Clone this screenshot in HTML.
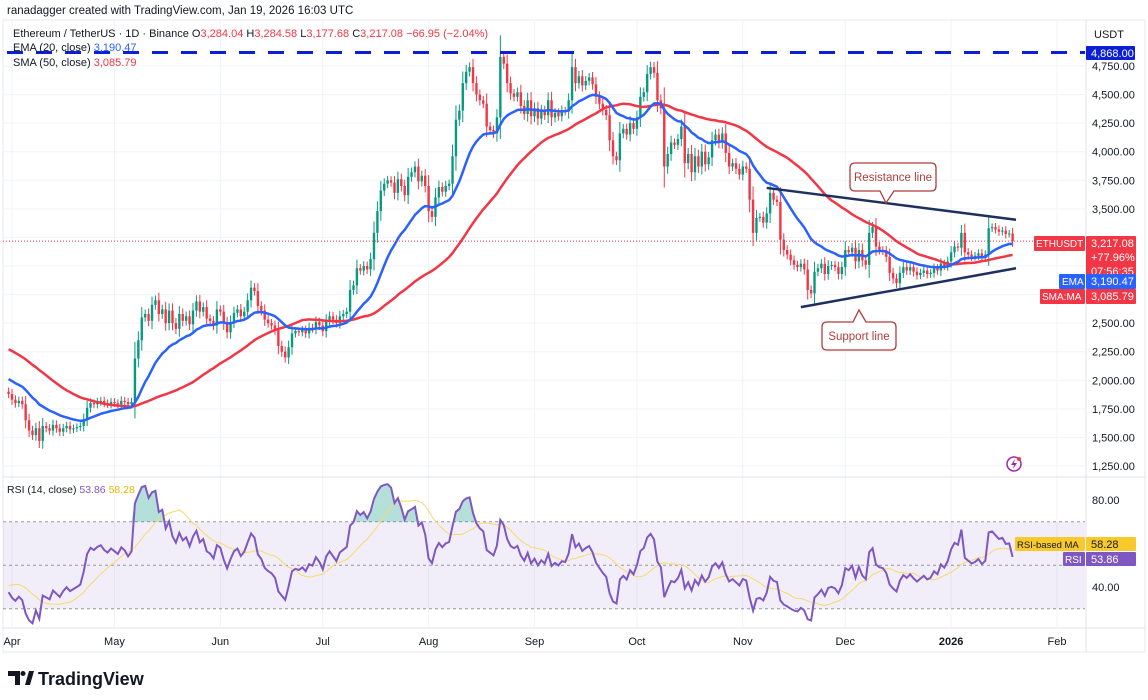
<!DOCTYPE html>
<html><head><meta charset="utf-8"><style>
html,body{margin:0;padding:0;background:#fff;width:1148px;height:700px;overflow:hidden;font-family:"Liberation Sans",sans-serif}
svg text{font-family:"Liberation Sans",sans-serif}
</style></head><body>
<svg id="c" width="1148" height="700" viewBox="0 0 1148 700" xmlns="http://www.w3.org/2000/svg">
<rect x="0" y="0" width="1148" height="700" fill="#fff"/>
<rect x="3" y="20" width="1142" height="632" fill="none" stroke="#e6e8ee" stroke-width="1"/>
<g id="grid"></g>
<g id="rsiBand"></g>
<g id="candles"></g>
<g id="lines"></g>
<g id="rsi"></g>
<g id="ann"></g>
<g id="axes"></g>
<g id="hdr"></g>
</svg>
<script>
const priorCloses=[2650,2620,2700,2680,2740,2720,2690,2660,2720,2680,2740,2800,2760,2700,2680,2640,2500,2420,2380,2330,2250,2200,2130,2220,2240,2180,2150,2170,2080,2030,1920,1960,1880,2010,1900,1920,1880,1860,1930,2020,1980,2050,1980,2010,2060,2080,2000,1930,1900];
const closes=[1880,1830,1800,1820,1790,1650,1560,1520,1580,1470,
1600,1580,1560,1610,1580,1550,1580,1600,1570,1580,
1590,1600,1660,1760,1800,1790,1810,1820,1800,1790,
1810,1800,1790,1820,1810,1790,1810,2190,2350,2550,
2580,2520,2660,2700,2580,2620,2500,2610,2500,2450,
2580,2520,2560,2490,2610,2690,2600,2640,2540,2520,
2480,2620,2600,2500,2420,2510,2590,2620,2560,2600,
2700,2810,2780,2650,2610,2530,2500,2480,2440,2300,
2250,2200,2290,2410,2430,2420,2440,2410,2460,2450,
2510,2480,2430,2520,2560,2530,2500,2560,2580,2600,
2790,2830,2980,2960,3000,2970,3060,3290,3480,3660,
3720,3750,3730,3640,3760,3700,3620,3780,3820,3870,
3740,3790,3700,3480,3430,3600,3690,3650,3700,3720,
3960,4280,4360,4600,4700,4740,4600,4500,4450,4420,
4220,4190,4160,4300,4830,4770,4600,4510,4480,4520,
4400,4330,4450,4310,4380,4290,4360,4320,4450,4300,
4340,4310,4360,4350,4450,4740,4600,4660,4580,4620,
4650,4590,4480,4420,4365,4320,4100,3960,3925,4160,
4200,4150,4250,4200,4300,4480,4520,4680,4740,4690,
4450,4380,3870,3980,4080,4060,4110,4220,3900,3980,
3820,3960,3870,4000,3890,3950,4100,4150,4080,4160,
3990,3870,3900,3850,3800,3870,3850,3580,3290,3420,
3430,3380,3460,3640,3580,3560,3230,3140,3100,3050,
3010,2990,3020,2970,2790,2760,2950,2980,3020,2930,
3000,3010,2990,2930,2990,3140,3120,3160,3040,3140,
3050,3010,3290,3340,3170,3140,3130,3080,2940,2890,
2850,2940,2990,2960,2990,2950,2920,2940,2960,2930,
2940,2980,2960,3020,3000,3040,3120,3170,3160,3290,
3120,3100,3080,3090,3110,3080,3100,3330,3340,3320,
3300,3310,3280,3284,3217.08];
const firstDay=-1;
const priceTicks=[4750,4500,4250,4000,3750,3500,2500,2250,2000,1750,1500,1250];
const priceTickLabels=["4,750.00","4,500.00","4,250.00","4,000.00","3,750.00","3,500.00","2,500.00","2,250.00","2,000.00","1,750.00","1,500.00","1,250.00"];
const monthDays=[0,30,61,91,122,153,183,214,244,275,306];
const monthLabels=["Apr","May","Jun","Jul","Aug","Sep","Oct","Nov","Dec","2026","Feb"];
const rsiTicks=[80,40];
const resistancePts=[[221,3683],[294,3405]];
const supportPts=[[231,2640],[294,2980]];
const athLevel=4868;

const NS="http://www.w3.org/2000/svg";
const xD=d=>12+d*3.415;
const yP=p=>66+(4750-p)*28.57/250;
const yR=v=>500+(80-v)*2.175;
function el(tag,attrs,parent,txt){const e=document.createElementNS(NS,tag);for(const k in attrs)e.setAttribute(k,attrs[k]);if(txt!==undefined)e.textContent=txt;parent.appendChild(e);return e;}
const G=id=>document.getElementById(id);

const grid=G('grid');
[4750,4500,4250,4000,3750,3500,3250,3000,2750,2500,2250,2000,1750,1500,1250].forEach(p=>{
 const l=el('line',{x1:3,x2:1085,y1:yP(p),y2:yP(p),stroke:'#f0f3fa','stroke-width':1},grid);
 
 });
monthDays.forEach(d=>{
 const l=el('line',{x1:xD(d),x2:xD(d),y1:20,y2:627,stroke:'#f0f3fa','stroke-width':1},grid);
 
 });
el('line',{x1:3,x2:1145,y1:477,y2:477,stroke:'#e0e3eb','stroke-width':1},grid);
el('line',{x1:1086,x2:1086,y1:20,y2:652,stroke:'#e0e3eb','stroke-width':1},grid);
el('line',{x1:3,x2:1145,y1:628,y2:628,stroke:'#e0e3eb','stroke-width':1},grid);

const cg=G('candles');
let prev=1900;
closes.forEach((c,i)=>{
 const o=prev;prev=c;const d=firstDay+i;const x=xD(d);
 const up=c>=o;const col=up?'#089981':'#f23645';
 const hi=Math.max(o,c)+Math.abs(c-o)*0.3+30, lo=Math.min(o,c)-Math.abs(c-o)*0.3-30;
 const w=el('line',{x1:x,x2:x,y1:yP(hi),y2:yP(lo),stroke:col,'stroke-width':1},cg);
 
 
 const yt=yP(Math.max(o,c)),yb=yP(Math.min(o,c));
 const b=el('rect',{x:x-1.2,y:yt,width:2.4,height:Math.max(1,yb-yt),fill:col},cg);
 
 
});

const all=priorCloses.concat(closes);const off=priorCloses.length;
let ema=null;const emaArr=[],smaArr=[];
all.forEach((c,i)=>{ema=ema===null?c:ema+(c-ema)*2/21;emaArr.push(ema);
 if(i>=49){let s=0;for(let k=i-49;k<=i;k++)s+=all[k];smaArr.push(s/50);}else smaArr.push(null);});
const lg=G('lines');
function poly(arr,col,name){let pts=[];for(let i=off;i<all.length;i++){if(arr[i]!=null)pts.push(xD(firstDay+i-off).toFixed(1)+','+yP(arr[i]).toFixed(1));}
 const p=el('polyline',{points:pts.join(' '),fill:'none',stroke:col,'stroke-width':2.5,'stroke-linejoin':'round'},lg);
 
 }
poly(smaArr,'#f23645','sma-50-line');
poly(emaArr,'#2962ff','ema-20-line');
const cp=el('line',{x1:3,x2:1085,y1:yP(3217.08),y2:yP(3217.08),stroke:'#f23645','stroke-width':1,'stroke-dasharray':'1 2'},lg);


const ath=el('line',{x1:7,x2:1085,y1:yP(athLevel),y2:yP(athLevel),stroke:'#0d1fd6','stroke-width':3,'stroke-dasharray':'16 13'},lg);



const rg=G('rsiBand');
const band=el('rect',{x:3,y:yR(70),width:1082,height:yR(30)-yR(70),fill:'rgba(126,87,194,0.1)'},rg);


[70,50,30].forEach(v=>{const l=el('line',{x1:3,x2:1085,y1:yR(v),y2:yR(v),stroke:'#9598a1','stroke-width':1,'stroke-dasharray':'3 3'},rg);
 
 });
let ag=0,al=0;const rsiArr=[];
for(let i=1;i<all.length;i++){const ch=all[i]-all[i-1];const g=Math.max(ch,0),l=Math.max(-ch,0);
 if(i<=14){ag+=g/14;al+=l/14;}else{ag=(ag*13+g)/14;al=(al*13+l)/14;}
 rsiArr[i]=i>=14?100-100/(1+ag/(al||1e-9)):null;}
const rsiMA=[];for(let i=0;i<all.length;i++){if(i>=27){let s=0;for(let k=i-13;k<=i;k++)s+=rsiArr[k];rsiMA[i]=s/14;}}
const rsg=G('rsi');
let rp=[],mp=[];
for(let i=off;i<all.length;i++){const x=xD(firstDay+i-off);rp.push([x,yR(rsiArr[i])]);if(rsiMA[i]!=null)mp.push(x.toFixed(1)+','+yR(rsiMA[i]).toFixed(1));}
let fill='';rp.forEach(([x,y])=>{fill+=(fill?' L':'M')+x.toFixed(1)+','+Math.min(y,yR(70)).toFixed(1);});
fill+=' L'+rp[rp.length-1][0]+','+yR(70)+' L'+rp[0][0]+','+yR(70)+'Z';
const ob=el('path',{d:fill,fill:'rgba(8,153,129,0.3)'},rsg);


const ma=el('polyline',{points:mp.join(' '),fill:'none',stroke:'#f7d96b','stroke-width':1},rsg);


const rl=el('polyline',{points:rp.map(p=>p[0].toFixed(1)+','+p[1].toFixed(1)).join(' '),fill:'none',stroke:'#7e57c2','stroke-width':2},rsg);



const an=G('ann');
const r1=el('line',{x1:xD(resistancePts[0][0]),y1:yP(resistancePts[0][1]),x2:xD(resistancePts[1][0]),y2:yP(resistancePts[1][1]),stroke:'#1e3060','stroke-width':2.5},an);


const s1=el('line',{x1:xD(supportPts[0][0]),y1:yP(supportPts[0][1]),x2:xD(supportPts[1][0]),y2:yP(supportPts[1][1]),stroke:'#1e3060','stroke-width':2.5},an);


const cb1=el('path',{d:'M855,163 H931 Q936,163 936,168 V186 Q936,191 931,191 H894 L886,203 L880,191 H855 Q850,191 850,186 V168 Q850,163 855,163Z',fill:'#fff',stroke:'#b23b3b','stroke-width':1.3},an);


const t1=el('text',{x:893,y:181,'font-size':11.5,fill:'#b23b3b','text-anchor':'middle'},an,'Resistance line');


const cb2=el('path',{d:'M827,322 H853 L859,310 L866,322 H891 Q896,322 896,327 V345 Q896,350 891,350 H827 Q822,350 822,345 V327 Q822,322 827,322Z',fill:'#fff',stroke:'#b23b3b','stroke-width':1.3},an);


const t2=el('text',{x:859,y:340,'font-size':11.5,fill:'#b23b3b','text-anchor':'middle'},an,'Support line');


const zap=el('circle',{cx:1014,cy:464,r:7,fill:'none',stroke:'#9c27b0','stroke-width':1.5},an);


el('path',{d:'M1015,459 L1011,465 L1014,465 L1013,469 L1017,463 L1014,463Z',fill:'#9c27b0'},an);
el('circle',{cx:1019,cy:459,r:2,fill:'#f23645'},an);

const ax=G('axes');
const usdt=el('text',{x:1094,y:38,'font-size':11,fill:'#131722'},ax,'USDT');


priceTicks.forEach((p,i)=>{const t=el('text',{x:1092,y:yP(p)+4,'font-size':11,fill:'#131722'},ax,priceTickLabels[i]);
 
 });
function box(x,y,w,h,fillc,txt,tx,name,fs){const r=el('rect',{x:x,y:y,width:w,height:h,fill:fillc,rx:1},ax);
 
 
 if(txt){const lines=txt.split('|');lines.forEach((s,k)=>el('text',{x:tx,y:y+11+k*14,'font-size':fs||11,fill:'#fff'},ax,s));}}
box(1086,46,49,14,'#0d1fd6','4,868.00',1091,'ath-price-label');
box(1034,236,51,15,'#f23645','ETHUSDT',1036,'symbol-label',10);
box(1086,236,50,43,'#f23645','3,217.08|+77.96%|07:56:35',1091,'last-price-label');
box(1059,274,26,15,'#2962ff','EMA',1062,'ema-tag',10);
box(1086,274,50,15,'#2962ff','3,190.47',1091,'ema-price-label');
box(1040,289,45,15,'#f23645','SMA:MA',1042,'sma-tag',10);
box(1086,289,50,15,'#f23645','3,085.79',1091,'sma-price-label');
rsiTicks.forEach(v=>{const t=el('text',{x:1092,y:yR(v)+4,'font-size':11,fill:'#131722'},ax,v.toFixed(2));
 
 });
box(1015,537,70,14,'#f7c92b','',0,'rsi-ma-tag');
el('text',{x:1017,y:548,'font-size':9.5,fill:'#131722'},ax,'RSI-based MA');
box(1086,537,50,14,'#f7c92b','',0,'rsi-ma-value');
el('text',{x:1091,y:548,'font-size':11,fill:'#131722'},ax,'58.28');
box(1063,552,22,14,'#7e57c2','RSI',1065,'rsi-tag',10);
box(1086,552,50,14,'#7e57c2','53.86',1091,'rsi-value');
monthDays.forEach((d,i)=>{const t=el('text',{x:xD(d),y:645,'font-size':11,fill:'#131722','text-anchor':'middle','font-weight':monthLabels[i]==='2026'?'bold':'normal'},ax,monthLabels[i]);
 
 });
</script>
<svg style="position:absolute;left:0;top:0" width="1148" height="700">
<text x="7" y="14" font-size="11.5" fill="#131722">ranadagger created with TradingView.com, Jan 19, 2026 16:03 UTC</text>
<text x="13" y="37" font-size="11" fill="#131722">Ethereum / TetherUS · 1D · Binance  O<tspan fill="#f23645">3,284.04</tspan>  H<tspan fill="#f23645">3,284.58</tspan>  L<tspan fill="#f23645">3,177.68</tspan>  C<tspan fill="#f23645">3,217.08</tspan>  <tspan fill="#f23645">−66.95 (−2.04%)</tspan></text>
<text x="13" y="51" font-size="11" fill="#131722">EMA (20, close) <tspan fill="#2962ff">3,190.47</tspan></text>
<text x="13" y="66" font-size="11" fill="#131722">SMA (50, close) <tspan fill="#f23645">3,085.79</tspan></text>
<text x="7" y="493" font-size="10.5" fill="#131722">RSI (14, close) <tspan fill="#7e57c2">53.86</tspan> <tspan fill="#e6b800">58.28</tspan></text>
<g>
<path d="M8,671 H20 V685 H15 V676 H8Z" fill="#131722"/>
<circle cx="23" cy="673.5" r="2.5" fill="#131722"/>
<path d="M25,685 L29,671 H34 L30,685Z" fill="#131722"/>
<text x="38" y="685" font-size="18" font-weight="bold" fill="#131722">TradingView</text>
</g>
</svg>
</body></html>
